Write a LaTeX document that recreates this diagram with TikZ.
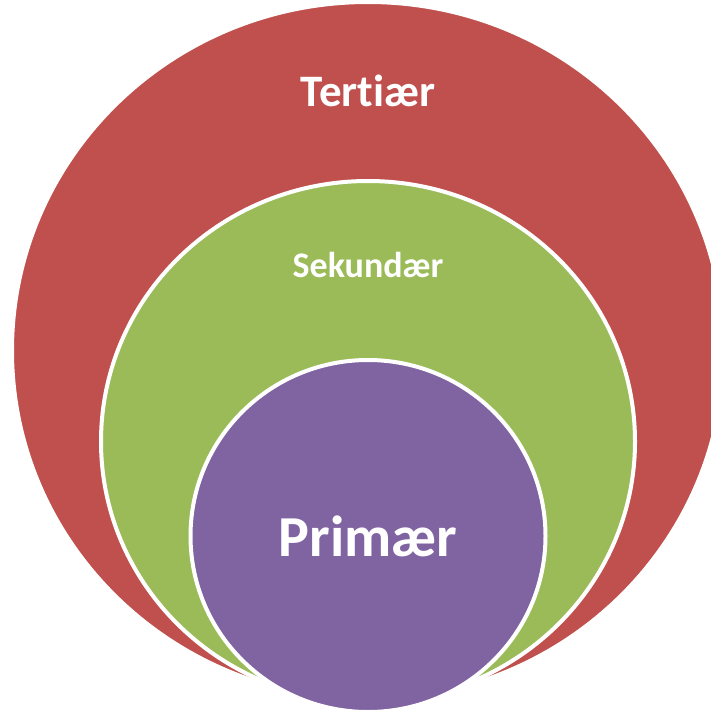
\documentclass[tikz,border=0pt]{standalone}
\usepackage{fontspec}
\setmainfont{Carlito}[Ligatures=NoCommon]
\definecolor{tred}{HTML}{C0504D}
\definecolor{tgreen}{HTML}{9BBB59}
\definecolor{tpurple}{HTML}{8064A2}
\begin{document}
\begin{tikzpicture}[x=1pt,y=-1pt,
  ring/.style={draw=white,line width=4pt},
  lbl/.style={text=white,font=\bfseries,inner sep=0pt,anchor=center}]
\useasboundingbox (0,0) rectangle (711,714);
\clip (0,0) rectangle (711,714);
\filldraw[ring,fill=tred] (368,350.5) ellipse [x radius=356, y radius=348.5];
\filldraw[ring,fill=tgreen] (368,441.5) ellipse [x radius=267, y radius=260.5];
\filldraw[ring,fill=tpurple] (368,536) ellipse [x radius=177.5, y radius=176];
\node[lbl,font=\bfseries\fontsize{45}{54}\selectfont] (tert) at (368,91) {Tertiær};
\node[lbl,font=\bfseries\fontsize{36}{43}\selectfont] (sek) at (368,265) {Sekundær};
\node[lbl,font=\bfseries\fontsize{58}{70}\selectfont] (prim) at (368,536) {Primær};
\end{tikzpicture}
\end{document}
